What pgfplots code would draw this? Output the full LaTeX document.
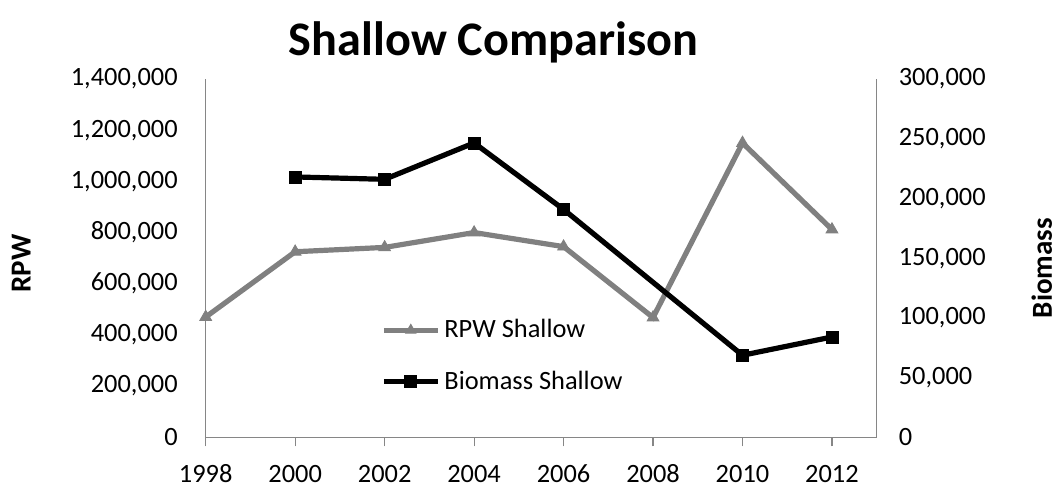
\documentclass[border=0pt]{standalone}
\usepackage{fontspec}
\setmainfont{Carlito}
\usepackage{pgfplots}
\pgfplotsset{compat=1.18}
\definecolor{rpwgray}{RGB}{128,128,128}
\definecolor{axgray}{RGB}{134,134,134}
\newcommand{\tickfont}{\fontsize{13.2}{16}\selectfont}
\newcommand{\labfont}{\bfseries\fontsize{14.5}{17}\selectfont}
\pgfplotsset{legend image code/.code={\draw[mark repeat=2,mark phase=2,#1] plot coordinates {(0pt,0pt) (13.5pt,0pt) (27pt,0pt)};}}
\pgfplotsset{shallow/.style={scale only axis, width=335.5pt, height=179.15pt,
  at={(102.85pt,25.35pt)}, anchor=south west, xmin=1998, xmax=2013, ymin=0,
  axis line style={axgray, line width=0.6pt}, tick style={axgray, line width=0.6pt},
  major y tick style={draw=none}, tick align=outside, major tick length=4.5pt,
  tick label style={font=\tickfont}, scaled ticks=false}}

\begin{document}
\begin{tikzpicture}
\useasboundingbox (0,0) rectangle (530pt,244pt);
\node[font=\bfseries\fontsize{24.1}{29}\selectfont, anchor=base] at (246.75pt,216pt) {Shallow Comparison};

\begin{axis}[shallow, axis x line*=bottom, axis y line*=left,
  xtick={1998,2000,...,2012}, xticklabels={1998,2000,2002,2004,2006,2008,2010,2012},
  x tick label style={text height=8.5pt, text depth=0pt, yshift=-6pt},
  ymax=1400000, ytick={0,200000,...,1400000},
  yticklabels={0,{200,000},{400,000},{600,000},{800,000},{1,000,000},{1,200,000},{1,400,000}},
  y tick label style={xshift=-6pt},
  ylabel={RPW}, every axis y label/.style={at={(axis description cs:-0.275,0.485)}, rotate=90, anchor=center, inner sep=0pt, font=\labfont}]
\addplot[rpwgray, line width=2.6pt, mark=triangle*, mark size=3.4pt, mark options={line width=0.4pt}]
  coordinates {(1998,470000) (2000,725000) (2002,742000) (2004,800000) (2006,745000) (2008,468000) (2010,1150000) (2012,812000)};
\end{axis}

\begin{axis}[shallow, axis x line=none, axis y line*=right,
  ymax=300000, ytick={0,50000,...,300000},
  yticklabels={0,{50,000},{100,000},{150,000},{200,000},{250,000},{300,000}},
  y tick label style={xshift=3pt},
  ylabel={Biomass}, every axis y label/.style={at={(axis description cs:1.246,0.4725)}, rotate=90, anchor=center, inner sep=0pt, font=\labfont},
  legend style={at={(0.252,0.352)}, anchor=north west, draw=none, fill=none, font=\tickfont, row sep=11pt, legend cell align=left}]
\addlegendimage{rpwgray, line width=2.6pt, mark=triangle*, mark size=3pt, mark options={line width=0.4pt}}
\addlegendentry{RPW Shallow}
\addplot[black, line width=2.6pt, mark=square*, mark size=3pt, mark options={line width=0.4pt}]
  coordinates {(2000,218000) (2002,216000) (2004,246500) (2006,190800) (2010,68700) (2012,84000)};
\addlegendentry{Biomass Shallow}
\end{axis}
\end{tikzpicture}
\end{document}
